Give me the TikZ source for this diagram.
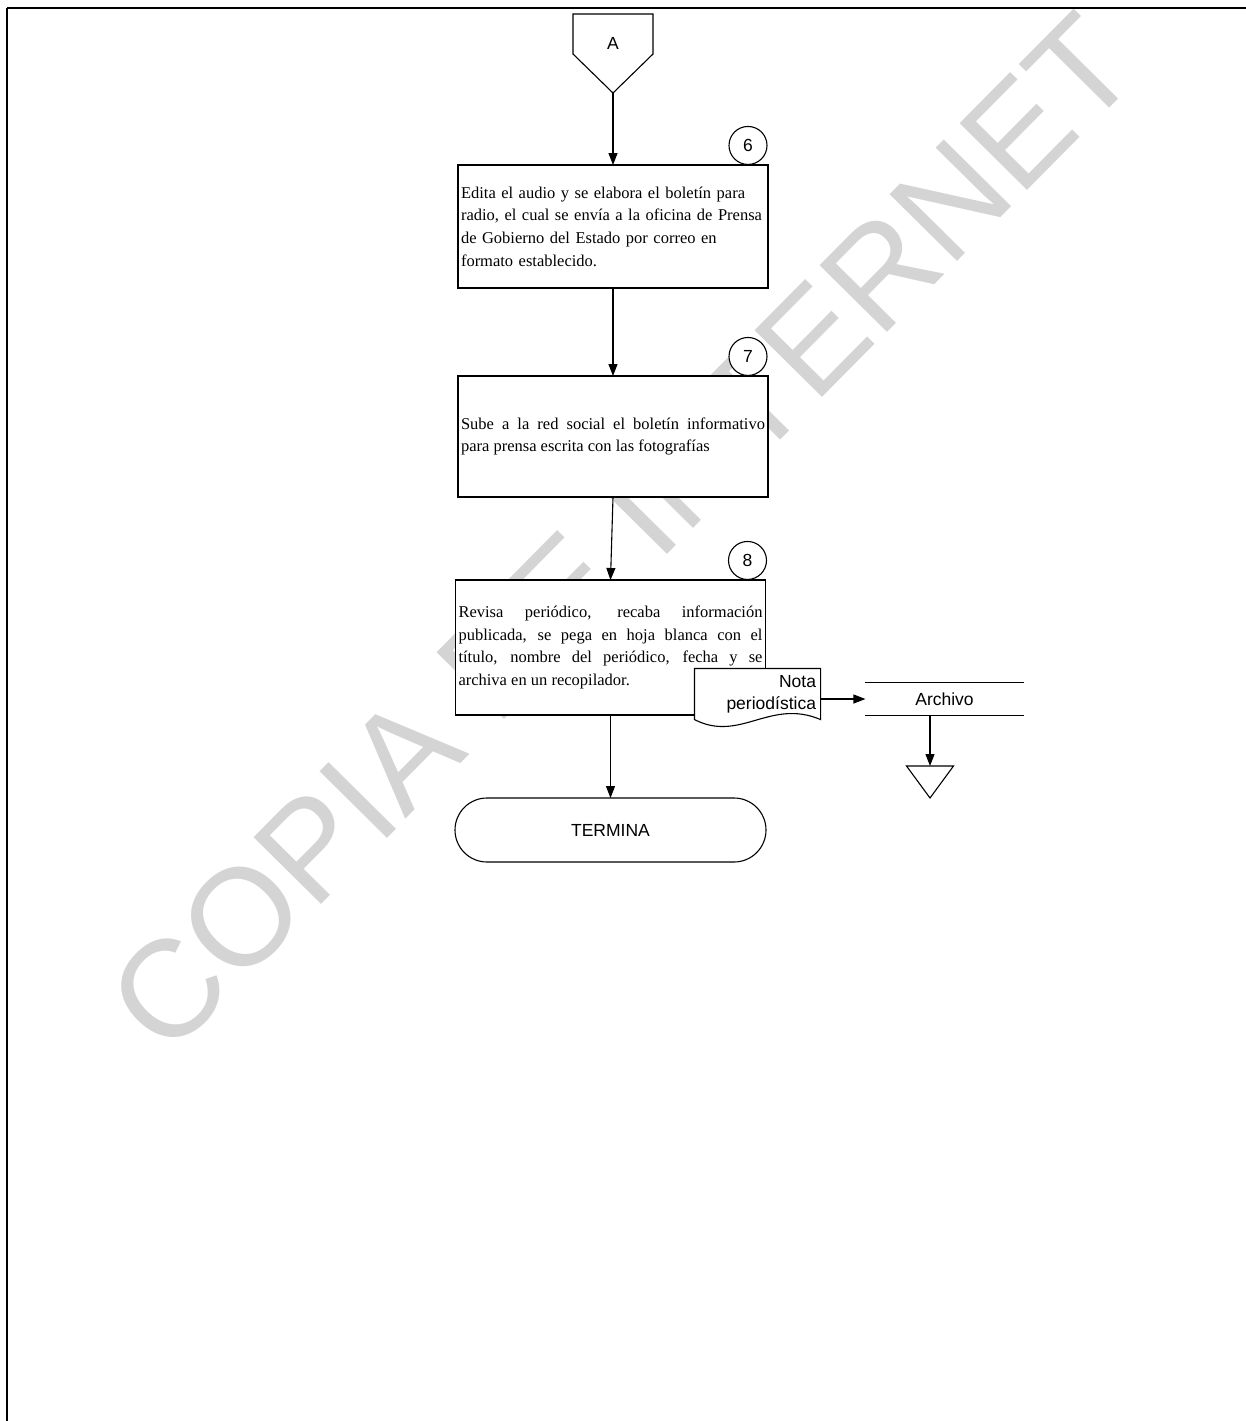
\documentclass[tikz,border=0pt]{standalone}
\usepackage{fontspec}
\setmainfont{Liberation Serif}
\setsansfont{Liberation Sans}
\usetikzlibrary{arrows.meta,positioning}

\begin{document}
\begin{tikzpicture}[
  x=1pt, y=-1pt,
  line width=1.1pt,
  box/.style={draw,fill=white,outer sep=0pt,minimum width=310pt,text width=304pt,inner xsep=3pt,inner ysep=5pt,font=\fontsize{16.5}{22.7}\selectfont},
  sflabel/.style={font=\sffamily\fontsize{17.5}{22}\selectfont},
  num/.style={draw,circle,fill=white,minimum size=38pt,inner sep=0pt,font=\sffamily\fontsize{17.5}{20}\selectfont},
  term/.style={draw,fill=white,outer sep=0pt,rounded corners=32pt,minimum width=311pt,minimum height=64pt,font=\sffamily\fontsize{17.5}{22}\selectfont},
  arr/.style={-{Triangle[length=12pt,width=9pt]}}
]
\useasboundingbox (0,0) rectangle (1246,1421);

% watermark
\node[rotate=45.3,inner sep=0pt,text=black!17,font=\sffamily\fontsize{138}{138}\selectfont] (mark) at (622,533) {COPIA DE INTERNET};

% frame
\draw[line width=2pt] (7,8) -- (1246,8);
\draw[line width=1.5pt] (7,8) -- (7,1421);

% off-page connector
\draw (573,14) -- (653,14) -- (653,54) -- (613,93) -- (573,54) -- cycle;
\node[sflabel] (conA) at (613,43) {A};
\coordinate (aTip) at (613,93);

\node[box,minimum height=123pt,align=left] (b6) at (613,226.5) {Edita el audio y se elabora el boletín para\\radio, el cual se envía a la oficina de Prensa\\de Gobierno del Estado por correo en\\formato establecido.};
\node[num,above=0pt of b6.north east,xshift=-20pt] (n6) {6};

\node[box,minimum height=121pt,align=justify,below=88pt of b6] (b7) {Sube a la red social el boletín informativo\linebreak para prensa escrita con las fotografías};
\node[num,above=0pt of b7.north east,xshift=-20pt] (n7) {7};

\node[box,minimum height=135pt,align=justify,below=83pt of b7,xshift=-2.5pt] (b8) {Revisa periódico, recaba información\linebreak publicada, se pega en hoja blanca con el\linebreak título, nombre del periódico, fecha y se\linebreak archiva en un recopilador.};
\node[num,above=0pt of b8.north east,xshift=-18pt] (n8) {8};

\node[term,below=83pt of b8] (term) {TERMINA};

% document and file
\node[sflabel,fill=white,minimum width=125pt,minimum height=50pt,text width=117pt,align=right,inner sep=4pt] (nota) at (757.5,694) {Nota\\periodística};
\draw (nota.north west) -- (nota.north east) -- (nota.south east) .. controls (770,698) and (740,743) .. (nota.south west) -- cycle;

\node[sflabel,minimum width=157pt,minimum height=32pt,inner sep=0pt] (arch) at (944.5,699) {Archivo};
\draw (arch.north west) -- (arch.north east) (arch.south west) -- (arch.south east);

\coordinate (tri) at (930,766);
\draw (tri) ++(-23.5,0) -- ++(47,0) -- ++(-23.5,32) -- cycle;

% connectors
\draw[arr] (aTip) -- (b6.north);
\draw[arr] (b6.south) -- (b7.north);
\draw[arr] (b7.south) -- (b8.north);
\draw[arr] (b8.south) -- (term.north);
\draw[arr] (nota.east |- arch.west) -- (arch.west);
\draw[arr] (tri |- arch.south) -- (tri);
\end{tikzpicture}
\end{document}
